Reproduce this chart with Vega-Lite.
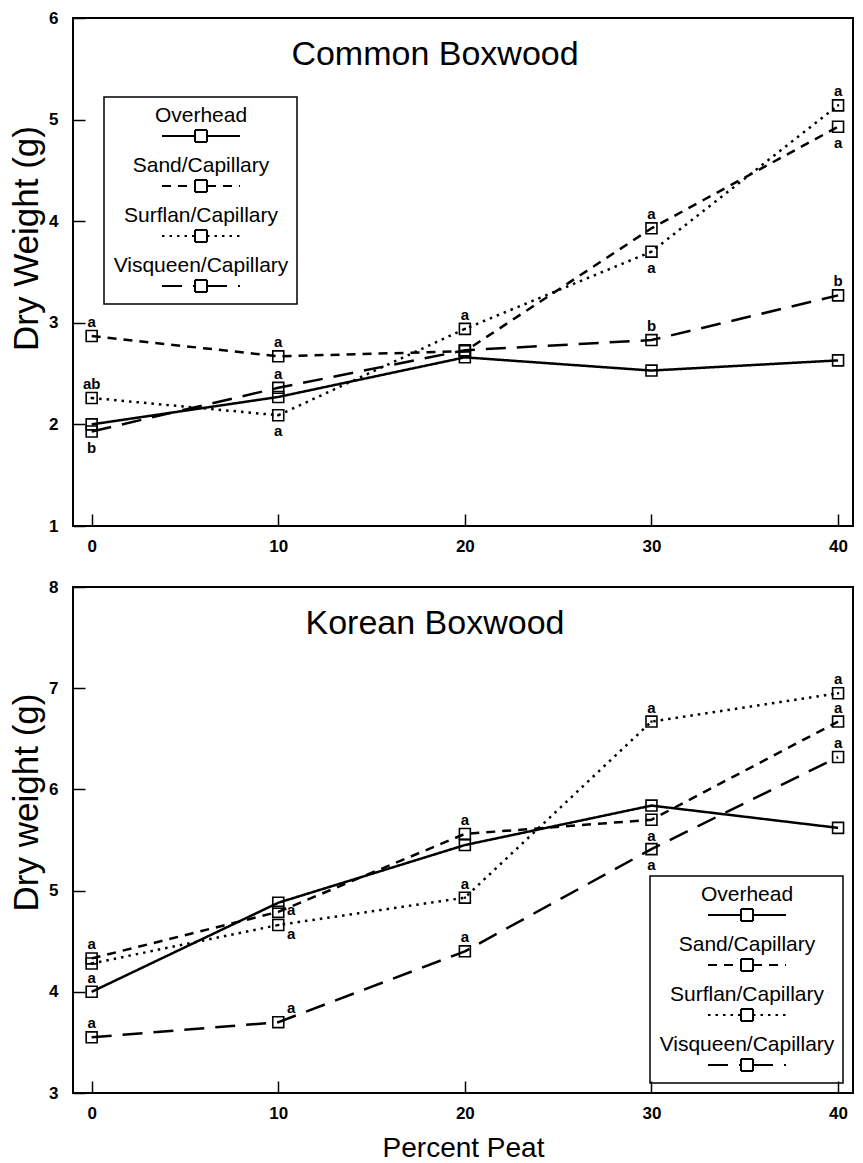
{
  "$schema": "https://vega.github.io/schema/vega-lite/v6.json",
  "background": "white",
  "padding": {"left": 8, "top": 8, "right": 5, "bottom": 4},
  "spacing": 22,
  "config": {
    "font": "Liberation Sans",
    "view": {"stroke": "black", "strokeWidth": 2},
    "axis": {
      "grid": false,
      "domain": false,
      "tickSize": -12,
      "tickWidth": 1.5,
      "tickColor": "black",
      "labelFont": "Liberation Sans",
      "labelFontSize": 17,
      "labelFontWeight": "bold",
      "labelColor": "black",
      "labelFlush": false,
      "titleColor": "black",
      "titleFont": "Liberation Sans",
      "titleFontWeight": "normal"
    },
    "axisY": {"labelPadding": 27, "titleFontSize": 35, "titleAlign": "center", "titleBaseline": "middle", "titleAngle": -90},
    "axisX": {"labelPadding": 24, "titleFontSize": 28, "titlePadding": 13},
    "legend": {
      "orient": "none",
      "direction": "vertical",
      "strokeColor": "black",
      "strokeWidth": 1.5,
      "padding": 8,
      "symbolType": "M-3.9,2H-0.6M0.6,2H3.9M-0.6,1.4H-0.4M-0.4,1.4H-0.2M-0.2,1.4H0M0,1.4H0.2M0.2,1.4H0.4M0.4,1.4H0.6M-0.6,2.6H-0.4M-0.4,2.6H-0.2M-0.2,2.6H0M0,2.6H0.2M0.2,2.6H0.4M0.4,2.6H0.6M-0.6,1.4V1.6M-0.6,1.6V1.8M-0.6,1.8V2M-0.6,2V2.2M-0.6,2.2V2.4M-0.6,2.4V2.6M0.6,1.4V1.6M0.6,1.6V1.8M0.6,1.8V2M0.6,2V2.2M0.6,2.2V2.4M0.6,2.4V2.6",
      "symbolSize": 400,
      "symbolStrokeWidth": 2,
      "symbolStrokeColor": "black",
      "symbolFillColor": "transparent",
      "symbolOffset": 78,
      "labelOffset": -11,
      "labelAlign": "center",
      "labelBaseline": "middle",
      "labelFont": "Liberation Sans",
      "labelFontSize": 21,
      "labelColor": "black",
      "labelLimit": 300,
      "rowPadding": 9
    },
    "title": {"font": "Liberation Sans", "fontSize": 34, "fontWeight": "normal", "color": "black", "anchor": "middle", "baseline": "alphabetic", "offset": -63, "dx": -28}
  },
  "datasets": {
    "weights": [
      {"panel": "Common", "treatment": "Overhead", "peat": 0, "weight": 2.00, "letter": "", "pos": ""},
      {"panel": "Common", "treatment": "Overhead", "peat": 10, "weight": 2.27, "letter": "", "pos": ""},
      {"panel": "Common", "treatment": "Overhead", "peat": 20, "weight": 2.66, "letter": "", "pos": ""},
      {"panel": "Common", "treatment": "Overhead", "peat": 30, "weight": 2.53, "letter": "", "pos": ""},
      {"panel": "Common", "treatment": "Overhead", "peat": 40, "weight": 2.63, "letter": "", "pos": ""},
      {"panel": "Common", "treatment": "Sand/Capillary", "peat": 0, "weight": 2.87, "letter": "a", "pos": "above"},
      {"panel": "Common", "treatment": "Sand/Capillary", "peat": 10, "weight": 2.67, "letter": "a", "pos": "above"},
      {"panel": "Common", "treatment": "Sand/Capillary", "peat": 20, "weight": 2.72, "letter": "", "pos": ""},
      {"panel": "Common", "treatment": "Sand/Capillary", "peat": 30, "weight": 3.93, "letter": "a", "pos": "above"},
      {"panel": "Common", "treatment": "Sand/Capillary", "peat": 40, "weight": 4.93, "letter": "a", "pos": "below"},
      {"panel": "Common", "treatment": "Surflan/Capillary", "peat": 0, "weight": 2.26, "letter": "ab", "pos": "above"},
      {"panel": "Common", "treatment": "Surflan/Capillary", "peat": 10, "weight": 2.09, "letter": "a", "pos": "below"},
      {"panel": "Common", "treatment": "Surflan/Capillary", "peat": 20, "weight": 2.94, "letter": "a", "pos": "above"},
      {"panel": "Common", "treatment": "Surflan/Capillary", "peat": 30, "weight": 3.70, "letter": "a", "pos": "below"},
      {"panel": "Common", "treatment": "Surflan/Capillary", "peat": 40, "weight": 5.14, "letter": "a", "pos": "above"},
      {"panel": "Common", "treatment": "Visqueen/Capillary", "peat": 0, "weight": 1.93, "letter": "b", "pos": "below"},
      {"panel": "Common", "treatment": "Visqueen/Capillary", "peat": 10, "weight": 2.36, "letter": "a", "pos": "above"},
      {"panel": "Common", "treatment": "Visqueen/Capillary", "peat": 20, "weight": 2.73, "letter": "", "pos": ""},
      {"panel": "Common", "treatment": "Visqueen/Capillary", "peat": 30, "weight": 2.83, "letter": "b", "pos": "above"},
      {"panel": "Common", "treatment": "Visqueen/Capillary", "peat": 40, "weight": 3.27, "letter": "b", "pos": "above"},
      {"panel": "Korean", "treatment": "Overhead", "peat": 0, "weight": 4.00, "letter": "a", "pos": "above"},
      {"panel": "Korean", "treatment": "Overhead", "peat": 10, "weight": 4.88, "letter": "", "pos": ""},
      {"panel": "Korean", "treatment": "Overhead", "peat": 20, "weight": 5.45, "letter": "", "pos": ""},
      {"panel": "Korean", "treatment": "Overhead", "peat": 30, "weight": 5.84, "letter": "", "pos": ""},
      {"panel": "Korean", "treatment": "Overhead", "peat": 40, "weight": 5.62, "letter": "", "pos": ""},
      {"panel": "Korean", "treatment": "Sand/Capillary", "peat": 0, "weight": 4.33, "letter": "a", "pos": "above"},
      {"panel": "Korean", "treatment": "Sand/Capillary", "peat": 10, "weight": 4.79, "letter": "a", "pos": "right"},
      {"panel": "Korean", "treatment": "Sand/Capillary", "peat": 20, "weight": 5.56, "letter": "a", "pos": "above"},
      {"panel": "Korean", "treatment": "Sand/Capillary", "peat": 30, "weight": 5.70, "letter": "a", "pos": "below"},
      {"panel": "Korean", "treatment": "Sand/Capillary", "peat": 40, "weight": 6.67, "letter": "a", "pos": "above"},
      {"panel": "Korean", "treatment": "Surflan/Capillary", "peat": 0, "weight": 4.28, "letter": "", "pos": ""},
      {"panel": "Korean", "treatment": "Surflan/Capillary", "peat": 10, "weight": 4.66, "letter": "a", "pos": "lowright"},
      {"panel": "Korean", "treatment": "Surflan/Capillary", "peat": 20, "weight": 4.93, "letter": "a", "pos": "above"},
      {"panel": "Korean", "treatment": "Surflan/Capillary", "peat": 30, "weight": 6.67, "letter": "a", "pos": "above"},
      {"panel": "Korean", "treatment": "Surflan/Capillary", "peat": 40, "weight": 6.95, "letter": "a", "pos": "above"},
      {"panel": "Korean", "treatment": "Visqueen/Capillary", "peat": 0, "weight": 3.55, "letter": "a", "pos": "above"},
      {"panel": "Korean", "treatment": "Visqueen/Capillary", "peat": 10, "weight": 3.70, "letter": "a", "pos": "upright"},
      {"panel": "Korean", "treatment": "Visqueen/Capillary", "peat": 20, "weight": 4.40, "letter": "a", "pos": "above"},
      {"panel": "Korean", "treatment": "Visqueen/Capillary", "peat": 30, "weight": 5.41, "letter": "a", "pos": "below"},
      {"panel": "Korean", "treatment": "Visqueen/Capillary", "peat": 40, "weight": 6.32, "letter": "a", "pos": "above"}
    ]
  },
  "resolve": {
    "scale": {"strokeDash": "independent"},
    "legend": {"strokeDash": "independent"}
  },
  "vconcat": [
    {
      "width": 780,
      "height": 508,
      "title": {"text": "Common Boxwood"},
      "data": {"name": "weights"},
      "transform": [{"filter": "datum.panel === 'Common'"}],
      "encoding": {
        "x": {"field": "peat", "type": "quantitative", "scale": {"domain": [-1, 40.8], "nice": false, "zero": false}, "axis": {"values": [0, 10, 20, 30, 40], "title": null}},
        "y": {"field": "weight", "type": "quantitative", "scale": {"domain": [1, 6], "nice": false, "zero": false}, "axis": {"values": [1, 2, 3, 4, 5, 6], "title": "Dry Weight (g)", "titleX": -47, "titleY": 220}}
      },
      "layer": [
        {
          "mark": {"type": "line", "color": "black", "strokeWidth": 2.5},
          "encoding": {
            "strokeDash": {
              "field": "treatment", "type": "nominal",
              "scale": {"domain": ["Overhead", "Sand/Capillary", "Surflan/Capillary", "Visqueen/Capillary"], "range": [[1, 0], [9, 7], [2.5, 5], [20, 11]]},
              "legend": {"orient": "none", "legendX": 31, "legendY": 79, "title": null}
            }
          }
        },
        {
          "mark": {"type": "point", "shape": "square", "size": 120, "filled": false, "stroke": "black", "strokeWidth": 1.6, "opacity": 1},
          "encoding": {"detail": {"field": "treatment"}}
        },
        {
          "transform": [{"filter": "datum.treatment === 'Surflan/Capillary'"}],
          "mark": {"type": "point", "shape": "square", "size": 5, "filled": true, "color": "black", "opacity": 1}
        },
        {
          "transform": [{"filter": "datum.pos === 'above'"}],
          "mark": {"type": "text", "dy": -14, "fontSize": 15, "fontWeight": "bold", "color": "black"},
          "encoding": {"text": {"field": "letter"}}
        },
        {
          "transform": [{"filter": "datum.pos === 'below'"}],
          "mark": {"type": "text", "dy": 16, "fontSize": 15, "fontWeight": "bold", "color": "black"},
          "encoding": {"text": {"field": "letter"}}
        }
      ]
    },
    {
      "width": 780,
      "height": 506,
      "title": {"text": "Korean Boxwood"},
      "data": {"name": "weights"},
      "transform": [{"filter": "datum.panel === 'Korean'"}],
      "encoding": {
        "x": {"field": "peat", "type": "quantitative", "scale": {"domain": [-1, 40.8], "nice": false, "zero": false}, "axis": {"values": [0, 10, 20, 30, 40], "title": "Percent Peat"}},
        "y": {"field": "weight", "type": "quantitative", "scale": {"domain": [3, 8], "nice": false, "zero": false}, "axis": {"values": [3, 4, 5, 6, 7, 8], "title": "Dry weight (g)", "titleX": -47, "titleY": 215}}
      },
      "layer": [
        {
          "mark": {"type": "line", "color": "black", "strokeWidth": 2.5},
          "encoding": {
            "strokeDash": {
              "field": "treatment", "type": "nominal",
              "scale": {"domain": ["Overhead", "Sand/Capillary", "Surflan/Capillary", "Visqueen/Capillary"], "range": [[1, 0], [9, 7], [2.5, 5], [20, 11]]},
              "legend": {"orient": "none", "legendX": 577, "legendY": 289, "title": null}
            }
          }
        },
        {
          "mark": {"type": "point", "shape": "square", "size": 120, "filled": false, "stroke": "black", "strokeWidth": 1.6, "opacity": 1},
          "encoding": {"detail": {"field": "treatment"}}
        },
        {
          "transform": [{"filter": "datum.treatment === 'Surflan/Capillary'"}],
          "mark": {"type": "point", "shape": "square", "size": 5, "filled": true, "color": "black", "opacity": 1}
        },
        {
          "transform": [{"filter": "datum.pos === 'above'"}],
          "mark": {"type": "text", "dy": -14, "fontSize": 15, "fontWeight": "bold", "color": "black"},
          "encoding": {"text": {"field": "letter"}}
        },
        {
          "transform": [{"filter": "datum.pos === 'below'"}],
          "mark": {"type": "text", "dy": 16, "fontSize": 15, "fontWeight": "bold", "color": "black"},
          "encoding": {"text": {"field": "letter"}}
        },
        {
          "transform": [{"filter": "datum.pos === 'right'"}],
          "mark": {"type": "text", "dx": 13, "dy": -2, "fontSize": 15, "fontWeight": "bold", "color": "black"},
          "encoding": {"text": {"field": "letter"}}
        },
        {
          "transform": [{"filter": "datum.pos === 'lowright'"}],
          "mark": {"type": "text", "dx": 13, "dy": 9, "fontSize": 15, "fontWeight": "bold", "color": "black"},
          "encoding": {"text": {"field": "letter"}}
        },
        {
          "transform": [{"filter": "datum.pos === 'upright'"}],
          "mark": {"type": "text", "dx": 13, "dy": -14, "fontSize": 15, "fontWeight": "bold", "color": "black"},
          "encoding": {"text": {"field": "letter"}}
        }
      ]
    }
  ]
}
